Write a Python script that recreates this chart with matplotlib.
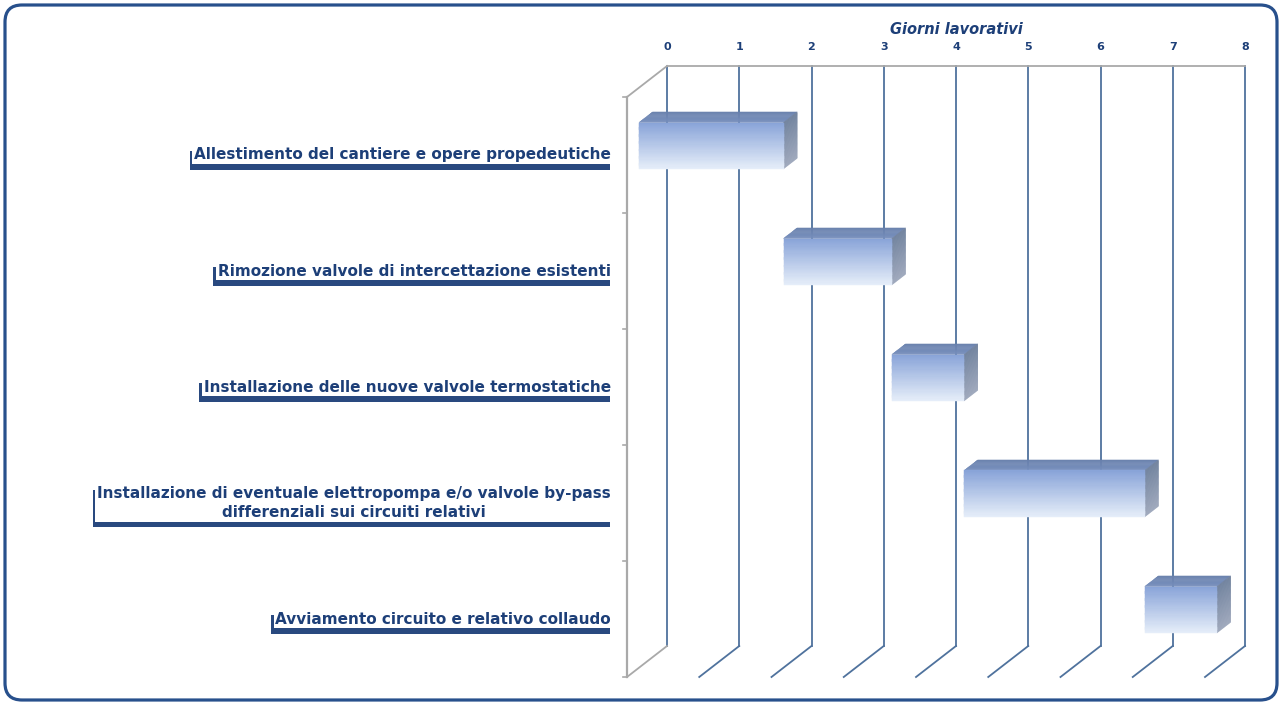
import matplotlib
matplotlib.use("Agg")
import matplotlib.pyplot as plt
import numpy as np
from matplotlib.collections import PolyCollection
from matplotlib.patches import FancyBboxPatch
import matplotlib.patheffects as pe
from matplotlib.colors import to_rgb

# ---------------- data ----------------
tasks = [
    "Allestimento del cantiere e opere propedeutiche",
    "Rimozione valvole di intercettazione esistenti",
    "Installazione delle nuove valvole termostatiche",
    "Installazione di eventuale elettropompa e/o valvole by-pass\ndifferenziali sui circuiti relativi",
    "Avviamento circuito e relativo collaudo",
]
start_days = [0.0, 2.0, 3.5, 4.5, 7.0]
durations = [2.0, 1.5, 1.0, 2.5, 1.0]
day_ticks = [0, 1, 2, 3, 4, 5, 6, 7, 8]
axis_title = "Giorni lavorativi"

# ---------------- style ----------------
NAVY = "#1d3f78"
GRID = "#4f729d"
GRAY = "#a9a9a9"
BORDER = "#28508c"
FRONT_TOP, FRONT_BOT = "#88a3d8", "#e6eef9"
TOP_BACK, TOP_FRONT = "#6880ac", "#778fbd"
SIDE_TOP, SIDE_BOT = "#72849f", "#a0a9bd"

W, H, DPI = 1282, 704, 100
fig = plt.figure(figsize=(W / DPI, H / DPI), dpi=DPI)
fig.patch.set_facecolor("white")

# back wall of the pseudo-3D plot
L, R, T, B = 667, 1245, 66, 646
ax = fig.add_axes([L / W, (H - B) / H, (R - L) / W, (B - T) / H])
ax.set_xlim(day_ticks[0], day_ticks[-1])
ax.set_ylim(len(tasks) - 0.5, -0.5)
ax.set_facecolor("none")
for s in ax.spines.values():
    s.set_visible(False)

px_x = (R - L) / (day_ticks[-1] - day_ticks[0])   # pixels per day
px_y = (B - T) / len(tasks)                         # pixels per category
DDX = -40 / px_x   # depth vector (back wall -> front plane) in data units
DDY = 31 / px_y
D_FRONT, D_BACK = 0.70, 0.36   # bar front / back depths
HALF = 0.20

def dpt(x, y, d):
    return (x + d * DDX, y + d * DDY)

# ticks on top
ax.xaxis.tick_top()
ax.set_xticks(day_ticks)
ax.set_xticklabels([str(t) for t in day_ticks], fontsize=8, fontweight="bold", color=NAVY)
ax.tick_params(axis="x", length=0, pad=10)
ax.set_yticks([])
ax.set_xlabel(axis_title, fontsize=10.5, fontweight="bold", style="italic", color=NAVY, labelpad=6)
ax.xaxis.set_label_position("top")

y_top, y_bot = -0.5, len(tasks) - 0.5

# back-wall gridlines and floor lines
for t in day_ticks:
    ax.plot([t, t], [y_top, y_bot], color=GRID, lw=1.3, zorder=1, clip_on=False)
    x2, y2 = dpt(t, y_bot, 1.0)
    ax.plot([t, x2], [y_bot, y2], color=GRAY if t == day_ticks[0] else GRID, lw=1.3,
            zorder=1, clip_on=False)
# top edge of the back wall
ax.plot([day_ticks[0], day_ticks[-1]], [y_top, y_top], color=GRAY, lw=1.3, zorder=1, clip_on=False)
x2, y2 = dpt(day_ticks[0], y_top, 1.0)
ax.plot([day_ticks[0], x2], [y_top, y2], color=GRAY, lw=1.3, zorder=1, clip_on=False)
# left wall
xa, ya = dpt(day_ticks[0], y_top, 1.0)
xb, yb = dpt(day_ticks[0], y_bot, 1.0)
ax.plot([xa, xb], [ya, yb], color=GRAY, lw=1.6, zorder=1, clip_on=False)
for k in range(len(tasks) + 1):
    yy = y_top + k + DDY
    ax.plot([xa - 4 / px_x, xa], [yy, yy], color=GRAY, lw=1.2, zorder=1, clip_on=False)

def lerp(c1, c2, t):
    a, b = np.array(to_rgb(c1)), np.array(to_rgb(c2))
    return tuple(a + (b - a) * t)

N = 40
for i, (s, d) in enumerate(zip(start_days, durations)):
    x0, x1 = s, s + d
    y0, y1 = i - HALF, i + HALF
    # top face gradient strips (back -> front)
    polys, cols = [], []
    M = 12
    for k in range(M):
        da = D_BACK + (D_FRONT - D_BACK) * k / M
        db = D_BACK + (D_FRONT - D_BACK) * min((k + 1.1) / M, 1)
        p = [dpt(x0, y0, da), dpt(x1, y0, da), dpt(x1, y0, db), dpt(x0, y0, db)]
        polys.append(p)
        cols.append(lerp(TOP_BACK, TOP_FRONT, (k + 0.5) / M))
    ax.add_collection(PolyCollection(polys, facecolors=cols, edgecolors=cols, linewidths=0.3,
                                     zorder=3, clip_on=False))
    # side face gradient strips
    polys, cols = [], []
    for k in range(N):
        t0, t1 = k / N, (k + 1) / N
        ya0 = y0 + (y1 - y0) * t0
        ya1 = y0 + (y1 - y0) * min(t1 + 0.01, 1)
        p = [dpt(x1, ya0, D_FRONT), dpt(x1, ya0, D_BACK), dpt(x1, ya1, D_BACK), dpt(x1, ya1, D_FRONT)]
        polys.append(p)
        cols.append(lerp(SIDE_TOP, SIDE_BOT, (t0 + t1) / 2))
    ax.add_collection(PolyCollection(polys, facecolors=cols, edgecolors=cols, linewidths=0.3,
                                     zorder=3, clip_on=False))
    # front face gradient strips
    polys, cols = [], []
    for k in range(N):
        t0, t1 = k / N, (k + 1) / N
        ya0 = y0 + (y1 - y0) * t0
        ya1 = y0 + (y1 - y0) * min(t1 + 0.01, 1)
        p = [dpt(x0, ya0, D_FRONT), dpt(x1, ya0, D_FRONT), dpt(x1, ya1, D_FRONT), dpt(x0, ya1, D_FRONT)]
        polys.append(p)
        cols.append(lerp(FRONT_TOP, FRONT_BOT, (t0 + t1) / 2))
    ax.add_collection(PolyCollection(polys, facecolors=cols, edgecolors=cols, linewidths=0.3,
                                     zorder=4, clip_on=False))

# category labels with shadowed white boxes
label_x = day_ticks[0] + DDX - 16 / px_x
texts = []
for i, name in enumerate(tasks):
    t = ax.text(label_x, i + DDY, name, ha="right", va="center", multialignment="center",
                fontsize=10, fontweight="bold", color=NAVY, linespacing=1.3,
                bbox=dict(boxstyle="square,pad=0.12", fc="white", ec="none"),
                zorder=6, clip_on=False)
    t.get_bbox_patch().set_path_effects([
        pe.withSimplePatchShadow(offset=(-2.0, -4.2), shadow_rgbFace=NAVY, alpha=0.95, rho=1.0)
    ])
    texts.append(t)

# fit label font size to reference width of first label
fig.canvas.draw()
r = fig.canvas.get_renderer()
w0 = texts[0].get_window_extent(r).width
scale = 419.0 / w0
for t in texts:
    t.set_fontsize(10 * scale)

# rounded frame
fig.patches.append(FancyBboxPatch((5 / DPI, 4 / DPI), (W - 10) / DPI, (H - 9) / DPI,
                                  boxstyle="round,pad=0,rounding_size=0.17",
                                  transform=fig.dpi_scale_trans, fill=False,
                                  ec=BORDER, lw=2.3, zorder=0))

fig.savefig("out.png", dpi=DPI, facecolor="white")
